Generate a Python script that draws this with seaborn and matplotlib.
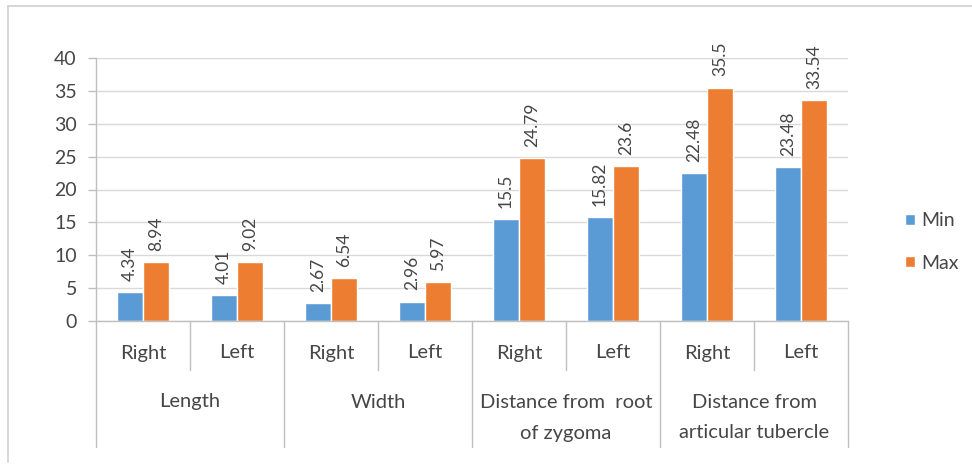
import matplotlib
matplotlib.use("Agg")
import matplotlib.pyplot as plt
import matplotlib.transforms as mtransforms
from matplotlib.lines import Line2D
import seaborn as sns
import pandas as pd

# Measurements per side (mm)
sides = ["Right", "Left", "Right", "Left", "Right", "Left", "Right", "Left"]
groups = ["Length", "Width", "Distance from  root\nof zygoma", "Distance from\narticular tubercle"]
min_values = [4.34, 4.01, 2.67, 2.96, 15.5, 15.82, 22.48, 23.48]
max_values = [8.94, 9.02, 6.54, 5.97, 24.79, 23.6, 35.5, 33.54]
series_names = ["Min", "Max"]
y_ticks = [0, 5, 10, 15, 20, 25, 30, 35, 40]

BLUE = "#5B9BD5"
ORANGE = "#ED7D31"
TEXT = "#464646"
GRID = "#D9D9D9"
AXIS = "#BFBFBF"

sns.set_theme(style="white")
plt.rcParams["font.family"] = ["Lato", "DejaVu Sans"]

slots = [f"{i}" for i in range(len(sides))]
df = pd.DataFrame({
    "slot": slots * 2,
    "value": min_values + max_values,
    "series": [series_names[0]] * len(slots) + [series_names[1]] * len(slots),
})

W, H = 972, 472
fig = plt.figure(figsize=(W / 100, H / 100), dpi=100)
fig.patch.set_facecolor("white")

# plot area in pixel coordinates
left_px, right_px, top_px, bottom_px = 96, 848, 58, 321
ax = fig.add_axes([left_px / W, 1 - bottom_px / H,
                   (right_px - left_px) / W, (bottom_px - top_px) / H])

sns.barplot(data=df, x="slot", y="value", hue="series", order=slots,
            hue_order=series_names, palette=[BLUE, ORANGE],
            width=0.553, gap=0, saturation=1, ax=ax, legend=True)

ax.set_xlim(-0.5, len(slots) - 0.5)
ax.set_ylim(0, 40)
ax.set_yticks(y_ticks)
ax.set_yticklabels([str(t) for t in y_ticks])
ax.set_xlabel("")
ax.set_ylabel("")
ax.set_xticks([])

ax.yaxis.grid(True, color=GRID, linewidth=1.0)
ax.set_axisbelow(True)
for s in ["top", "right"]:
    ax.spines[s].set_visible(False)
ax.spines["left"].set_color(AXIS)
ax.spines["bottom"].set_color(AXIS)
ax.spines["left"].set_linewidth(1.0)
ax.spines["bottom"].set_linewidth(1.0)
ax.tick_params(axis="y", length=5.8, width=1.0, color=AXIS, pad=8,
               labelsize=14, labelcolor=TEXT, left=True)

# rotated value labels above each bar
for cont in ax.containers:
    labels = [f"{b.get_height():g}" for b in cont]
    ax.bar_label(cont, labels=labels, rotation=90, padding=8,
                 fontsize=12.5, color=TEXT)

# multi-level category axis
ax_h = bottom_px - top_px


def yfrac(py):
    return (bottom_px - py) / ax_h


trans = mtransforms.blended_transform_factory(ax.transData, ax.transAxes)
for i in range(len(sides) + 1):
    x = i - 0.5
    if i % 2 == 0:
        y_end = yfrac(447)
    else:
        y_end = yfrac(370)
    ax.add_line(Line2D([x, x], [0, y_end], transform=trans, color=AXIS,
                       linewidth=1.0, clip_on=False))

for i, s in enumerate(sides):
    ax.text(i, yfrac(353), s, transform=trans, ha="center", va="center",
            fontsize=14.5, color=TEXT)

for g, name in enumerate(groups):
    xc = 2 * g + 0.5
    for j, line in enumerate(name.split("\n")):
        ax.text(xc, yfrac(402 + 31 * j), line, transform=trans, ha="center",
                va="center", fontsize=14.5, color=TEXT)

# legend to the right of the plot area
handles, lbls = ax.get_legend_handles_labels()
ax.get_legend().remove()
fig.legend(handles, lbls, loc="center left",
           bbox_to_anchor=(905 / W, 1 - 242 / H), frameon=False,
           fontsize=14, labelcolor=TEXT, handlelength=0.5, handleheight=0.5,
           handletextpad=0.35, labelspacing=1.3, borderpad=0, borderaxespad=0)

# chart area border
fig.add_artist(Line2D([8 / W, 1], [1 - 6 / H, 1 - 6 / H], color="#D0D0D0",
                      linewidth=1.2, transform=fig.transFigure))
fig.add_artist(Line2D([8 / W, 8 / W], [1 - 6 / H, 1 - 462 / H], color="#D0D0D0",
                      linewidth=1.2, transform=fig.transFigure))

fig.savefig("out.png", dpi=100, facecolor="white")
